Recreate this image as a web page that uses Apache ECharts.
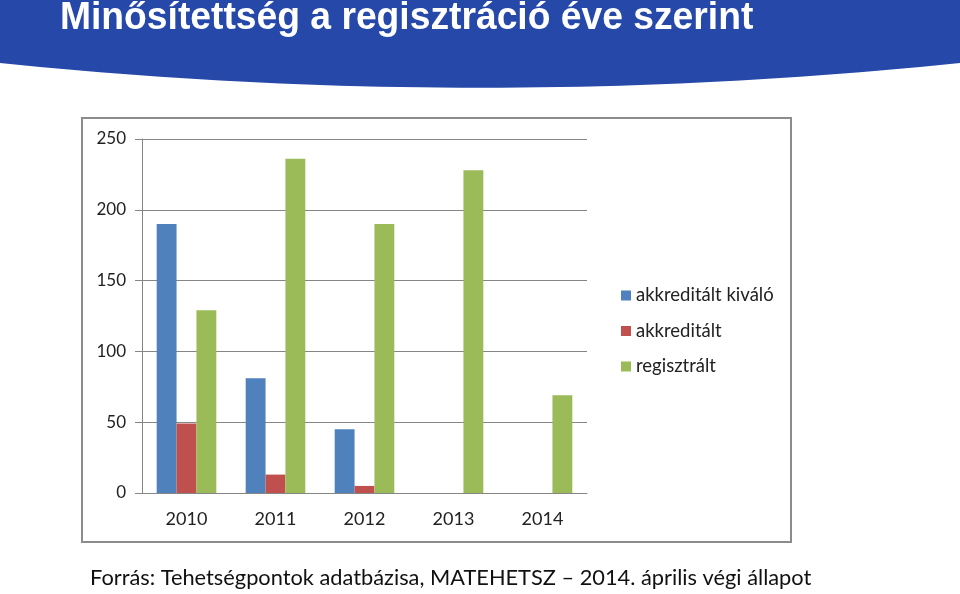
<!DOCTYPE html>
<html>
<head>
<meta charset="utf-8">
<script src="https://cdn.jsdelivr.net/npm/echarts@6/dist/echarts.min.js"></script>
<style>
html, body { margin: 0; padding: 0; background: #fff; }
#main { width: 960px; height: 594px; }
</style>
</head>
<body>
<div id="main"></div>
<script>
// adatok
var years = ['2010', '2011', '2012', '2013', '2014'];
var seriesNames = ['akkreditált kiváló', 'akkreditált', 'regisztrált'];
var kivalo = [190, 81, 45, 0, 0];
var akkreditalt = [49, 13, 5, 0, 0];
var regisztralt = [129, 236, 190, 228, 69];
var yTicks = [0, 50, 100, 150, 200, 250];

var colors = ['#4F81BD', '#C0504D', '#9BBB59'];
var labelFont = 'Lato, "Open Sans", sans-serif';

// fejléc íves alja
var headerPts = [[0, 0], [960, 0]];
for (var i = 0; i <= 48; i++) {
    var t = i / 48;
    var u = 1 - t;
    var x = 960 * u * u * u + 3 * 640 * u * u * t + 3 * 320 * u * t * t + 0;
    var y = 63 * u * u * u + 3 * 96 * u * u * t + 3 * 96 * u * t * t + 63 * t * t * t;
    headerPts.push([x, y]);
}

var myChart = echarts.init(document.getElementById('main'));
var option = {
    backgroundColor: '#fff',
    color: colors,
    animation: false,
    graphic: [
        {
            type: 'polygon',
            shape: { points: headerPts },
            style: { fill: '#2548A9' },
            z: 0
        },
        {
            type: 'text',
            x: 60,
            y: 0,
            scaleX: 0.98,
            style: {
                text: 'Minősítettség a regisztráció éve szerint',
                fill: '#fff',
                font: 'bold 38px "Liberation Sans", Arial, sans-serif'
            }
        },
        {
            type: 'rect',
            shape: { x: 82, y: 118, width: 709, height: 424 },
            style: { fill: 'none', stroke: '#8c8c8c', lineWidth: 2 },
            z: 0
        },
        {
            type: 'text',
            left: 90,
            top: 567,
            style: {
                text: 'Forrás: Tehetségpontok adatbázisa, MATEHETSZ – 2014. április végi állapot',
                fill: '#111',
                font: '21.8px Lato, "Open Sans", sans-serif'
            }
        }
    ],
    legend: {
        orient: 'vertical',
        left: 616,
        top: 281,
        itemWidth: 10,
        itemHeight: 10,
        itemGap: 16.5,
        icon: 'rect',
        data: seriesNames,
        textStyle: { fontSize: 18.5, color: '#222', fontFamily: labelFont }
    },
    grid: {
        left: 142,
        right: 373,
        top: 139,
        bottom: 101
    },
    xAxis: {
        type: 'category',
        data: years,
        axisLine: { lineStyle: { color: '#868686' } },
        axisTick: { show: false },
        axisLabel: { fontSize: 18, color: '#222', margin: 17, fontFamily: labelFont }
    },
    yAxis: {
        type: 'value',
        min: yTicks[0],
        max: yTicks[yTicks.length - 1],
        interval: 50,
        axisLine: { show: true, lineStyle: { color: '#868686' } },
        axisTick: { show: true, length: 7, lineStyle: { color: '#868686' } },
        axisLabel: { fontSize: 17, color: '#222', margin: 16, fontFamily: labelFont },
        splitLine: { lineStyle: { color: '#868686' } }
    },
    series: [
        { name: seriesNames[0], type: 'bar', data: kivalo, barGap: '0%', barCategoryGap: '33%' },
        { name: seriesNames[1], type: 'bar', data: akkreditalt, barGap: '0%', barCategoryGap: '33%' },
        { name: seriesNames[2], type: 'bar', data: regisztralt, barGap: '0%', barCategoryGap: '33%' }
    ]
};
myChart.setOption(option);
</script>
</body>
</html>
